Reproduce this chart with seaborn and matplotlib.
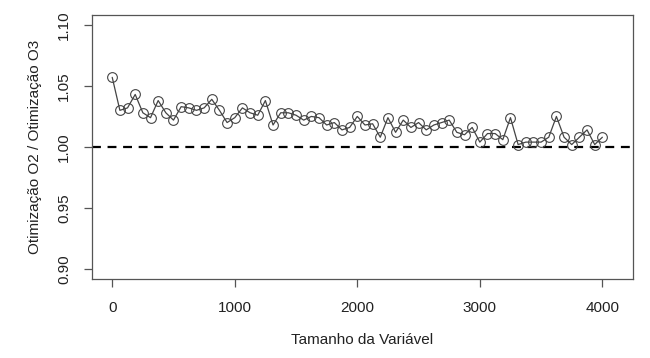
import numpy as np
import pandas as pd
import seaborn as sns
import matplotlib
matplotlib.use("Agg")
import matplotlib.pyplot as plt

# tamanho da variavel (65 pontos de 0 a 4000)
tamanho = np.linspace(0, 4000, 65)

# razao O2 / O3
razao = [1.057, 1.030, 1.032, 1.043, 1.028, 1.024, 1.038, 1.028, 1.022, 1.033,
         1.032, 1.030, 1.032, 1.039, 1.030, 1.020, 1.024, 1.032, 1.028, 1.026,
         1.038, 1.018, 1.028, 1.028, 1.026, 1.022, 1.025, 1.024, 1.018, 1.020,
         1.014, 1.016, 1.025, 1.018, 1.019, 1.008, 1.024, 1.012, 1.022, 1.016,
         1.020, 1.014, 1.018, 1.020, 1.022, 1.012, 1.010, 1.016, 1.004, 1.011,
         1.011, 1.006, 1.024, 1.002, 1.004, 1.004, 1.004, 1.008, 1.025, 1.008,
         1.002, 1.008, 1.014, 1.002, 1.008]

xticks = [0, 1000, 2000, 3000, 4000]
yticks = [0.90, 0.95, 1.00, 1.05, 1.10]

df = pd.DataFrame({'tamanho': tamanho, 'razao': razao})

sns.set_style('white')
plt.rcParams['font.family'] = ['Liberation Sans', 'DejaVu Sans']

fig, ax = plt.subplots(figsize=(6.5, 3.58), dpi=100)
fig.subplots_adjust(left=92/650, right=633/650, top=1-15/358, bottom=1-279/358)

sns.lineplot(data=df, x='tamanho', y='razao', ax=ax, color='#444444',
             linewidth=0.9, marker='o', markersize=7,
             markerfacecolor='none', markeredgecolor='#444444',
             markeredgewidth=0.8)

ax.axhline(1.0, color='black', linestyle=(0, (4, 3)), linewidth=1.6, zorder=1)

ax.set_xlim(-165, 4250)
ax.set_ylim(0.892, 1.108)
ax.set_xticks(xticks)
ax.set_xticklabels([str(t) for t in xticks])
ax.set_yticks(yticks)
ax.set_yticklabels([f"{t:.2f}" for t in yticks], rotation=90, va='center')

for s in ax.spines.values():
    s.set_color('#555555')
    s.set_linewidth(0.9)

ax.tick_params(axis='both', direction='out', length=6, width=0.9,
               color='#555555', labelsize=11, labelcolor='#222222',
               bottom=True, left=True)
ax.tick_params(axis='x', pad=10)
ax.tick_params(axis='y', pad=9)

ax.set_xlabel('Tamanho da Variável', fontsize=11, color='#222222', labelpad=13)
ax.set_ylabel('Otimização O2 / Otimização O3', fontsize=11, color='#222222',
              labelpad=11)

fig.savefig('out.png', dpi=100)
